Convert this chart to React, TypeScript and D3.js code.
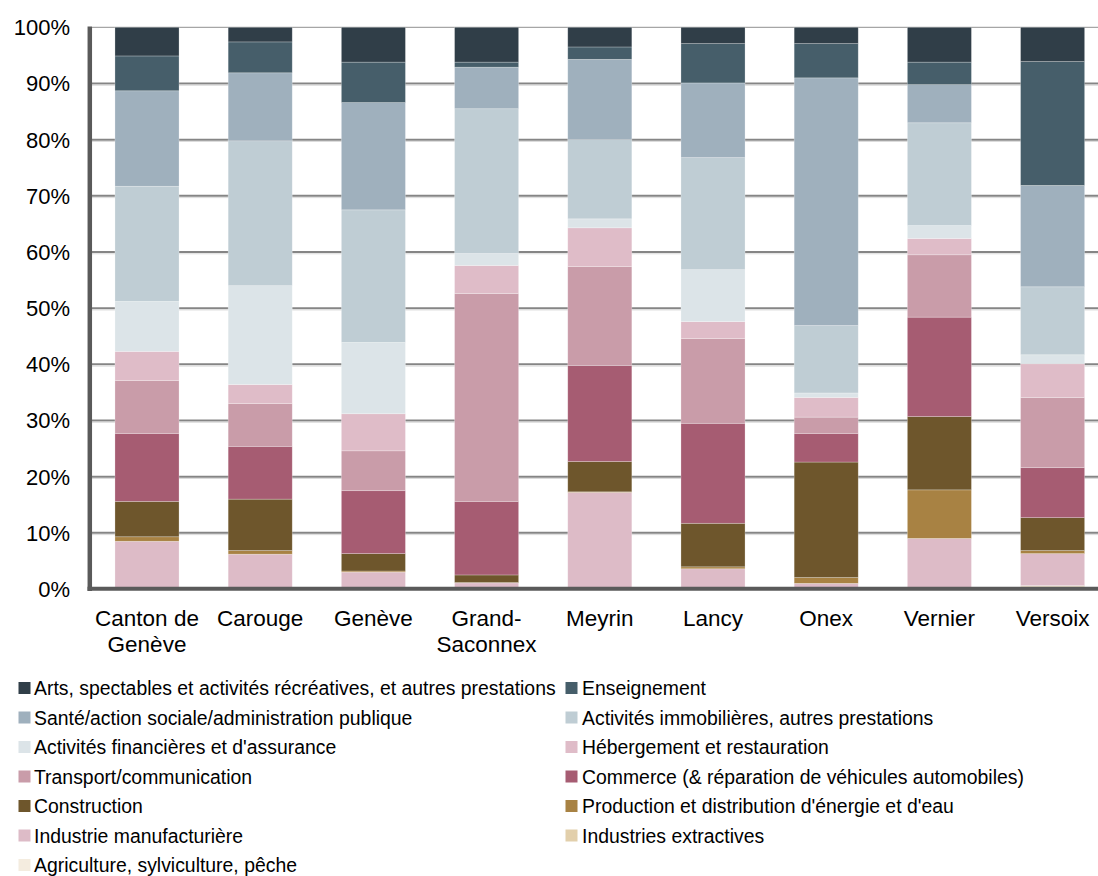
import React from "react";
import * as d3 from "d3";

const categories = ["Canton de\nGenève", "Carouge", "Genève", "Grand-\nSaconnex", "Meyrin", "Lancy", "Onex", "Vernier", "Versoix"];

const agriculture = [0.2, 0.1, 0.05, 0.05, 0.05, 0.05, 0.05, 0.05, 0.4];
const extractives = [0.1, 0.1, 0.05, 0.05, 0.05, 0.05, 0.05, 0.05, 0.2];
const industrie = [8.2, 6.0, 2.9, 1.0, 17.1, 3.5, 0.9, 8.9, 5.7];
const energie = [0.8, 0.65, 0.2, 0.05, 0.1, 0.35, 1.05, 8.65, 0.55];
const construction = [6.3, 9.15, 3.1, 1.35, 5.4, 7.75, 20.55, 13.05, 5.85];
const commerce = [12.1, 9.4, 11.2, 13.1, 17.1, 17.8, 5.1, 17.7, 8.9];
const transport = [9.4, 7.6, 7.1, 37.0, 17.6, 15.1, 2.9, 11.1, 12.5];
const hebergement = [5.2, 3.4, 6.6, 5.0, 6.9, 3.0, 3.5, 2.9, 6.0];
const financieres = [8.9, 17.6, 12.7, 2.15, 1.6, 9.25, 0.8, 2.3, 1.6];
const immobilieres = [20.5, 25.8, 23.6, 25.75, 14.1, 19.95, 12.0, 18.3, 12.1];
const sante = [17.0, 12.1, 19.1, 7.4, 14.3, 13.3, 44.1, 6.8, 18.05];
const enseignement = [6.2, 5.5, 7.2, 0.9, 2.2, 7.0, 6.1, 4.0, 22.05];
const arts = [5.1, 2.6, 6.2, 6.2, 3.5, 2.9, 2.9, 6.2, 6.1];

// bottom to top
const seriesNames = [
  "Agriculture, sylviculture, pêche",
  "Industries extractives",
  "Industrie manufacturière",
  "Production et distribution d'énergie et d'eau",
  "Construction",
  "Commerce (& réparation de véhicules automobiles)",
  "Transport/communication",
  "Hébergement et restauration",
  "Activités financières et d'assurance",
  "Activités immobilières, autres prestations",
  "Santé/action sociale/administration publique",
  "Enseignement",
  "Arts, spectables et activités récréatives, et autres prestations",
];
const seriesValues = [agriculture, extractives, industrie, energie, construction, commerce, transport, hebergement, financieres, immobilieres, sante, enseignement, arts];
const seriesColors = ["#f4ecdf", "#e2cfab", "#ddbbc7", "#a88243", "#6e562c", "#a65c72", "#c99ca9", "#dfbcc8", "#dce4e8", "#bfcdd4", "#9fb0bd", "#465e6a", "#303e48"];

const yTicks = [0, 10, 20, 30, 40, 50, 60, 70, 80, 90, 100];

const FONT = "'Liberation Sans', Arial, Helvetica, sans-serif";

export default function App() {
  const W = 1098, H = 876;
  const x = d3.scaleBand<number>().domain(d3.range(categories.length)).range([90.4, 1109.2]).paddingInner(0.434).paddingOuter(0.217);
  const y = d3.scaleLinear().domain([0, 100]).range([589, 27.3]);

  const table = categories.map((c, i) => {
    const row: any = { idx: i };
    seriesNames.forEach((s, k) => (row[s] = seriesValues[k][i]));
    return row;
  });
  const stacked = d3.stack<any>().keys(seriesNames)(table);

  // legend order: top of stack first
  const legendOrder = d3.range(seriesNames.length).reverse();

  return (
    <svg width={W} height={H} style={{ position: "absolute", left: 0, top: 0, background: "#fff" }} fontFamily={FONT}>
      {/* gridlines */}
      {yTicks.filter(t => t > 0).map(t => (
        <g key={t}>
          <line x1={92} x2={W} y1={y(t)} y2={y(t)} stroke={t === 100 ? "#a6a6a6" : "#858585"} strokeWidth={t === 100 ? 1.2 : 2} />
          {t !== 100 && <line x1={92} x2={W} y1={y(t) + 1.8} y2={y(t) + 1.8} stroke="#dadada" strokeWidth={1} />}
        </g>
      ))}
      {/* bars */}
      {stacked.map((layer, k) => (
        <g key={layer.key} fill={seriesColors[k]}>
          {layer.map((d, i) => {
            const h = y(d[0]) - y(d[1]);
            if (h <= 0) return null;
            return <rect key={i} x={x(i)} y={y(d[1])} width={x.bandwidth()} height={h} stroke="rgba(255,255,255,0.35)" strokeWidth={0.7} />;
          })}
        </g>
      ))}
      {/* axes */}
      <line x1={89.8} x2={89.8} y1={26.5} y2={591} stroke="#5a5a5a" strokeWidth={4.5} />
      <line x1={87.5} x2={W} y1={588.8} y2={588.8} stroke="#5a5a5a" strokeWidth={4} />
      {/* y tick labels */}
      {yTicks.map(t => (
        <text key={t} x={70} y={y(t) + 8} textAnchor="end" fontSize={22} fill="#000">{t}%</text>
      ))}
      {/* x labels */}
      {categories.map((c, i) => (
        <text key={i} textAnchor="middle" fontSize={22.5} fill="#000">
          {c.split("\n").map((ln, j) => (
            <tspan key={j} x={(x(i) as number) + x.bandwidth() / 2} y={626 + j * 26}>{ln}</tspan>
          ))}
        </text>
      ))}
      {/* legend */}
      {legendOrder.map((k, n) => {
        const col = n % 2;
        const row = Math.floor(n / 2);
        const cy = 688 + row * 29.5;
        const sx = col === 0 ? 18.5 : 565.5;
        const tx = col === 0 ? 34 : 582;
        return (
          <g key={k}>
            <rect x={sx} y={cy - 6} width={12} height={12} fill={seriesColors[k]} />
            <text x={tx} y={cy + 7} fontSize={19.4} fill="#000">{seriesNames[k]}</text>
          </g>
        );
      })}
    </svg>
  );
}
